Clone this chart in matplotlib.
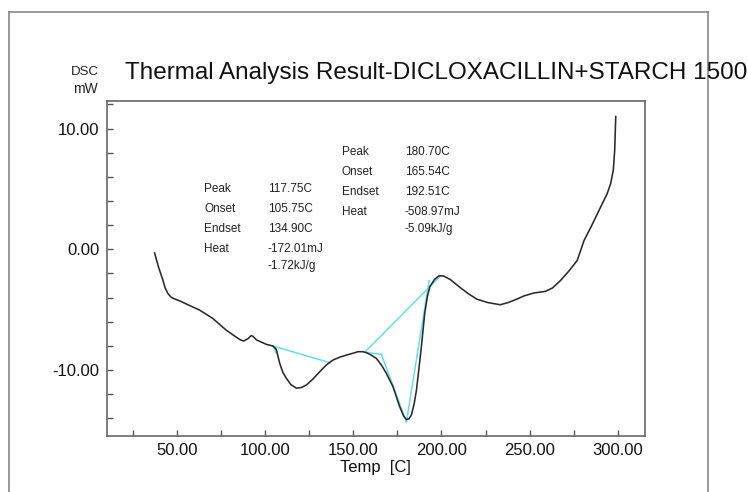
import numpy as np
import matplotlib
matplotlib.use("Agg")
import matplotlib.pyplot as plt
from matplotlib.lines import Line2D
from matplotlib.ticker import MultipleLocator, FormatStrFormatter

plt.rcParams['font.family'] = ['Liberation Sans', 'DejaVu Sans']

# DSC trace (temperature in C, heat flow in mW)
temp = [37.2, 39.5, 41.8, 43.2, 44.7, 46.5, 48.0, 51.3, 57.0, 62.7, 70.2, 77.8, 85.4, 87.7,
        90.2, 92.0, 93.0, 95.0, 100.6, 104.4, 106.3, 108.2, 110.0, 112.0, 114.5,
        117.6, 120.5, 123.3, 127.0, 130.9, 134.5, 138.4, 142.0, 146.0, 150.0,
        152.6, 155.5, 157.4, 160.0, 163.0, 166.0, 168.7, 172.5, 176.3, 178.5,
        180.1, 181.5, 182.9, 184.5, 185.8, 187.2, 188.6, 190.5, 192.0, 193.4,
        196.0, 198.5, 201.0, 205.0, 210.5, 215.0, 220.0, 226.0, 233.3, 238.0,
        242.8, 247.0, 252.3, 259.0, 263.0, 267.5, 272.0, 277.0, 280.9, 285.0,
        290.3, 294.0, 296.0, 297.5, 298.3, 298.9]
dsc = [-0.3, -1.5, -2.5, -3.2, -3.65, -3.95, -4.08, -4.26, -4.65, -5.03, -5.72, -6.69, -7.46, -7.6,
       -7.4, -7.15, -7.2, -7.5, -7.87, -8.01, -8.3, -9.44, -10.2, -10.69, -11.2,
       -11.5, -11.45, -11.24, -10.75, -10.14, -9.6, -9.17, -8.95, -8.76, -8.6,
       -8.48, -8.48, -8.56, -8.75, -9.03, -9.6, -10.27, -11.38, -13.04, -13.8,
       -14.1, -14.05, -13.73, -12.8, -11.66, -9.9, -8.07, -5.3, -3.9, -3.1,
       -2.5, -2.2, -2.2, -2.5, -3.15, -3.65, -4.12, -4.4, -4.59, -4.4,
       -4.12, -3.85, -3.62, -3.48, -3.2, -2.59, -1.85, -0.93, 0.73, 1.9,
       3.5, 4.6, 5.44, 6.55, 8.2, 11.0]

# analysis construction lines (baselines / tangents)
base1_t = [104.4, 136.7]
base1_y = [-8.01, -9.39]
tan1_t = [104.4, 106.3]
tan1_y = [-8.01, -8.6]
base2_t = [156.4, 199.5]
base2_y = [-8.53, -2.2]
flat2_t = [156.4, 165.9]
flat2_y = [-8.53, -8.7]
left2_t = [165.9, 180.1]
left2_y = [-8.7, -14.3]
right2_t = [180.1, 193.0]
right2_y = [-14.3, -2.6]

peak1_labels = ["Peak", "Onset", "Endset", "Heat"]
peak1_values = ["117.75C", "105.75C", "134.90C", "-172.01mJ", "-1.72kJ/g"]
peak2_labels = ["Peak", "Onset", "Endset", "Heat"]
peak2_values = ["180.70C", "165.54C", "192.51C", "-508.97mJ", "-5.09kJ/g"]

fig = plt.figure(figsize=(7.48, 4.92), dpi=100)
ax = fig.add_axes([0.1426, 0.1144, 0.7197, 0.6813])

cyan = '#62e0e6'
for tt, yy in [(base1_t, base1_y), (tan1_t, tan1_y), (base2_t, base2_y),
               (flat2_t, flat2_y), (left2_t, left2_y), (right2_t, right2_y)]:
    ax.plot(tt, yy, color=cyan, lw=1.1)
ax.plot(temp, dsc, color='#2a2a2a', lw=1.15)

ax.set_xlim(10, 315.5)
ax.set_ylim(-15.44, 12.33)
ax.xaxis.set_major_locator(MultipleLocator(50))
ax.xaxis.set_minor_locator(MultipleLocator(25))
ax.yaxis.set_major_locator(MultipleLocator(10))
ax.yaxis.set_minor_locator(MultipleLocator(2))
ax.xaxis.set_major_formatter(FormatStrFormatter('%.2f'))
ax.yaxis.set_major_formatter(FormatStrFormatter('%.2f'))
ax.tick_params(which='both', direction='in', length=4, width=1, color='#555555',
               top=False, right=False, labelsize=12, labelcolor='#111111', pad=5)
for s in ax.spines.values():
    s.set_color('#666666')
    s.set_linewidth(1.2)
ax.set_xlabel('Temp  [C]', fontsize=12, color='#111111', labelpad=2)

# result tables
fs = 8.5
row = 1.66
for i, lab in enumerate(peak1_labels):
    ax.text(65.5, 5.0 - row * i, lab, fontsize=fs, va='center', color='#222222')
for i, val in enumerate(peak1_values):
    ax.text(101.3, 5.0 - row * i + (0.25 if i == 4 else 0), val, fontsize=fs,
            va='center', color='#222222')
for i, lab in enumerate(peak2_labels):
    ax.text(143.4, 8.06 - row * i, lab, fontsize=fs, va='center', color='#222222')
for i, val in enumerate(peak2_values):
    ax.text(179.2, 8.06 - row * i + (0.25 if i == 4 else 0), val, fontsize=fs,
            va='center', color='#222222')

# titles and unit labels
fig.text(125 / 748, 1 - 73 / 492, 'Thermal Analysis Result-DICLOXACILLIN+STARCH 1500',
         fontsize=17.5, va='center', ha='left', color='#111111')
fig.text(85 / 748, 1 - 72 / 492, 'DSC', fontsize=9.5, ha='center', va='center', color='#222222')
fig.text(85 / 748, 1 - 89 / 492, 'mW', fontsize=10, ha='center', va='center', color='#222222')

# outer frame
fl, fr, ft = 9 / 748, 708 / 748, 1 - 12 / 492
for xs, ys in [([fl, fr], [ft, ft]), ([fl, fl], [ft, 0]), ([fr, fr], [ft, 0])]:
    fig.add_artist(Line2D(xs, ys, transform=fig.transFigure, color='#888888', lw=1.2))

fig.savefig('out.png', dpi=100)
